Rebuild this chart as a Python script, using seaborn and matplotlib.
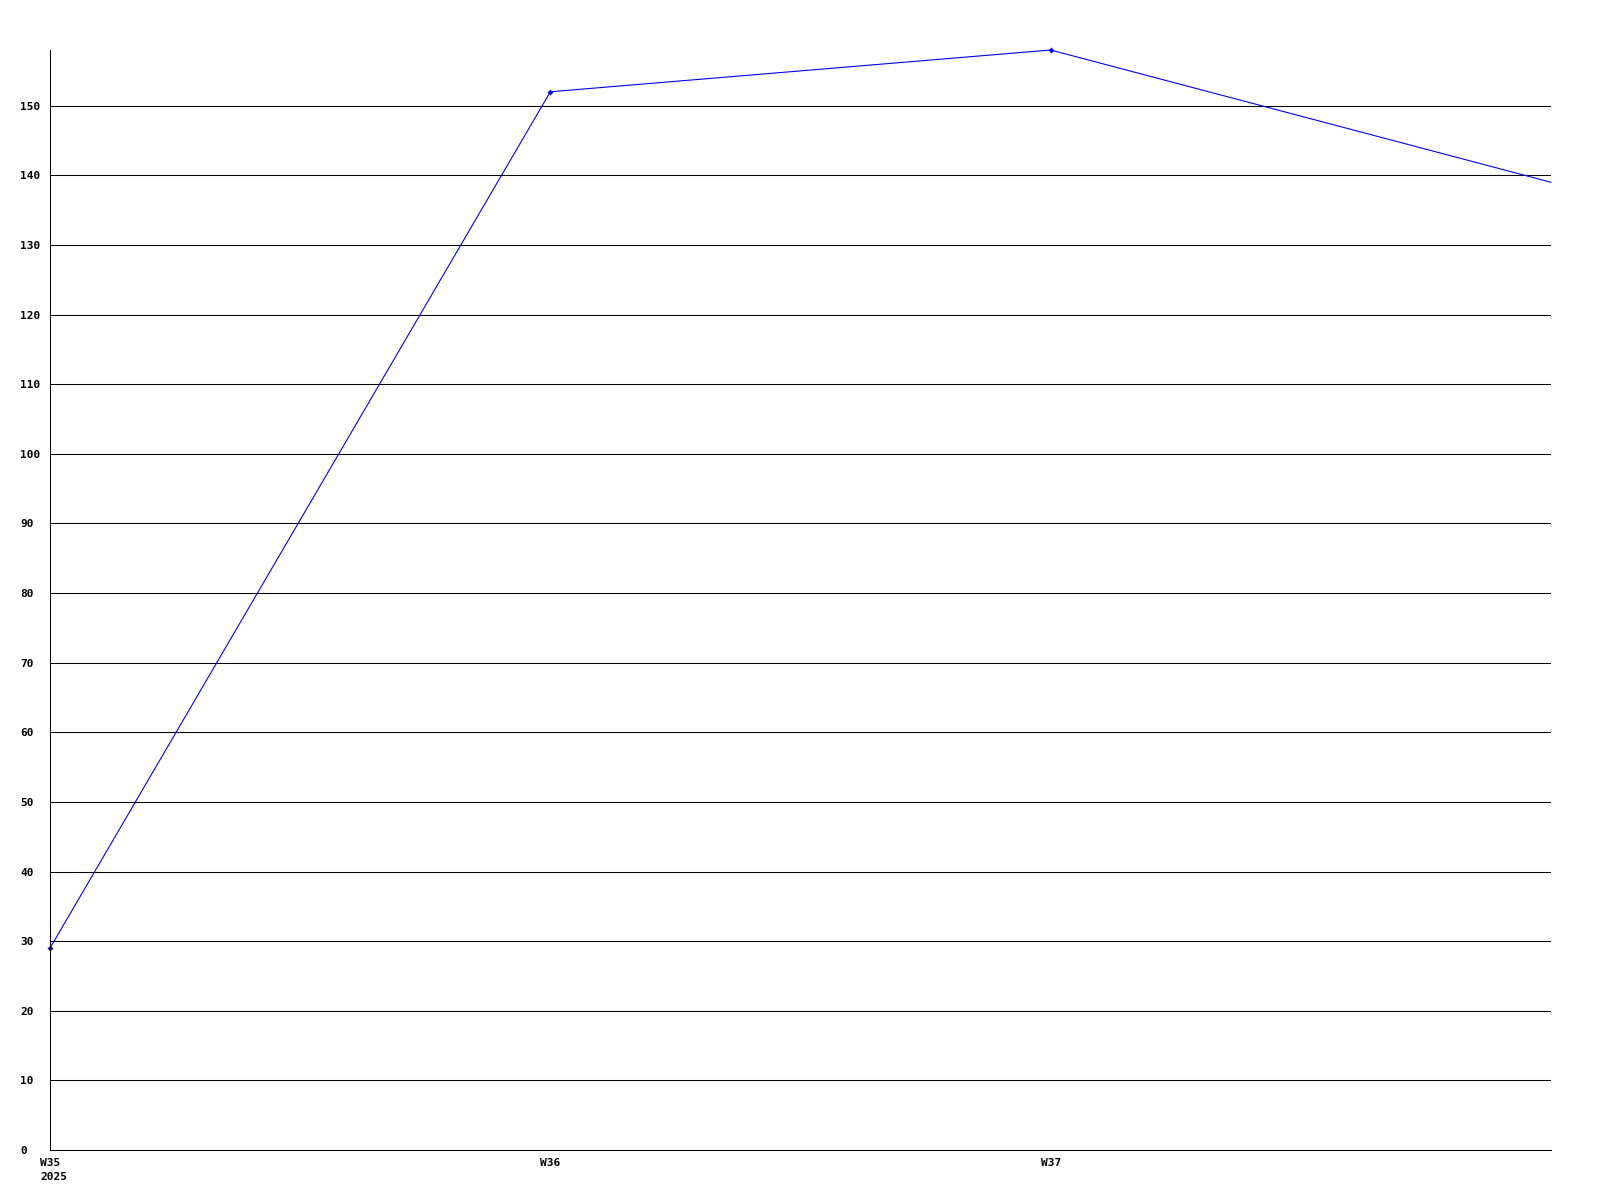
import matplotlib
matplotlib.use("Agg")
import matplotlib.pyplot as plt
import matplotlib.transforms as mtransforms
import seaborn as sns
import pandas as pd

weeks = ["W35", "W36", "W37", "W38"]
values = [29, 152, 158, 139]
tick_labels = ["W35\n2025", "W36", "W37"]
y_ticks = list(range(0, 160, 10))

sns.set_theme(style="white")
plt.rcParams['font.family'] = ['DejaVu Sans Mono']
plt.rcParams['text.color'] = 'black'
plt.rcParams['xtick.color'] = 'black'
plt.rcParams['ytick.color'] = 'black'

df = pd.DataFrame({"pos": range(len(weeks)), "week": weeks, "value": values})

fig = plt.figure(figsize=(16, 12), dpi=100)
ax = fig.add_axes([50/1600, 50/1200, 1501/1600, 1100/1200])

sns.lineplot(data=df, x="pos", y="value", ax=ax, color="#0000ff", linewidth=0.8,
             marker="D", markersize=3, markeredgewidth=0, clip_on=False,
             markevery=[0, 1, 2])

ax.set_xlim(0, 3)
ax.set_ylim(0, 158)
ax.set_xlabel("")
ax.set_ylabel("")

for v in y_ticks[1:]:
    ax.axhline(v, color="black", linewidth=0.75, zorder=0)

for s in ["top", "right"]:
    ax.spines[s].set_visible(False)
for s in ["left", "bottom"]:
    ax.spines[s].set_color("black")
    ax.spines[s].set_linewidth(0.75)

ax.set_yticks(y_ticks)
ax.set_yticklabels([str(v) for v in y_ticks])
ax.set_xticks(range(len(tick_labels)))
ax.set_xticklabels(tick_labels)
ax.tick_params(axis="both", length=0, pad=0, labelsize=8, labelcolor="black")

off_y = mtransforms.ScaledTranslation(-30/100, 0, fig.dpi_scale_trans)
for lab in ax.get_yticklabels():
    lab.set_ha("left")
    lab.set_fontweight("bold")
    lab.set_transform(lab.get_transform() + off_y)

off_x = mtransforms.ScaledTranslation(-10/100, -8/100, fig.dpi_scale_trans)
for lab in ax.get_xticklabels():
    lab.set_ha("left")
    lab.set_va("top")
    lab.set_fontweight("bold")
    lab.set_linespacing(1.45)
    lab.set_transform(lab.get_transform() + off_x)

fig.savefig("out.png", dpi=100, facecolor="white")
